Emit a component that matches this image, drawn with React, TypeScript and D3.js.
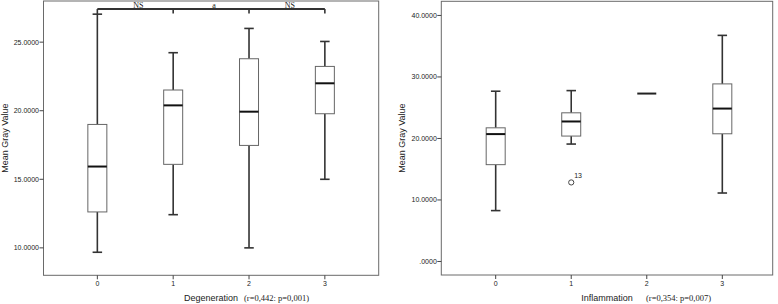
import React from 'react';
import * as d3 from 'd3';

// ---------- Data ----------
const categories = ['0', '1', '2', '3'];

// Degeneration (left panel)
const degWhiskerLow = [9.68, 12.42, 10.0, 15.0];
const degQ1 = [12.62, 16.09, 17.47, 19.78];
const degMedian = [15.93, 20.39, 19.93, 22.0];
const degQ3 = [19.0, 21.51, 23.79, 23.23];
const degWhiskerHigh = [27.04, 24.23, 26.0, 25.05];
const degTicks = [10, 15, 20, 25];
const sigLabels = ['NS', 'a', 'NS'];

// Inflammation (right panel)
const inflWhiskerLow = [8.27, 19.09, 27.3, 11.13];
const inflQ1 = [15.74, 20.39, 27.3, 20.76];
const inflMedian = [20.71, 22.76, 27.3, 24.86];
const inflQ3 = [21.73, 24.17, 27.3, 28.87];
const inflWhiskerHigh = [27.68, 27.78, 27.3, 36.76];
const inflTicks = [0, 10, 20, 30, 40];
const inflOutlierCats = ['1'];
const inflOutlierValues = [12.85];
const inflOutlierLabels = ['13'];

const fmt = (v: number) => d3.format('.4f')(v).replace(/^0\./, '.');

const SANS = '"Liberation Sans", Arial, sans-serif';
const SERIF = '"Liberation Serif", "Times New Roman", serif';

type PanelProps = {
  left: number; right: number; top: number; bottom: number;
  domain: [number, number]; xRange: [number, number]; padding: number;
  lo: number[]; q1: number[]; med: number[]; q3: number[]; hi: number[];
  ticks: number[]; title: string; stat: string; statX: number; yLabelX: number;
  children?: (x: d3.ScalePoint<string>, y: d3.ScaleLinear<number, number>) => React.ReactNode;
};

function Panel(p: PanelProps) {
  const x = d3.scalePoint<string>().domain(categories).range(p.xRange).padding(p.padding);
  const y = d3.scaleLinear().domain(p.domain).range([p.bottom, p.top]);
  const bw = 19;
  const cap = 9.5;
  const midY = (p.top + p.bottom) / 2;
  return (
    <g>
      <rect x={p.left} y={p.top} width={p.right - p.left} height={p.bottom - p.top}
        fill="#fff" stroke="#6a6a6a" strokeWidth={1} />
      {p.ticks.map((t) => (
        <g key={t}>
          <line x1={p.left - 4} x2={p.left} y1={y(t)} y2={y(t)} stroke="#444" />
          <text x={p.left - 4.5} y={y(t) + 2.5} fontSize={7} fontFamily={SANS}
            textAnchor="end" fill="#222">{fmt(t)}</text>
        </g>
      ))}
      {categories.map((c) => (
        <g key={c}>
          <line x1={x(c)} x2={x(c)} y1={p.bottom} y2={p.bottom + 4} stroke="#444" />
          <text x={x(c)} y={p.bottom + 11} fontSize={7} fontFamily={SANS}
            textAnchor="middle" fill="#222">{c}</text>
        </g>
      ))}
      {categories.map((c, i) => {
        const cx = x(c) as number;
        const single = p.q1[i] === p.q3[i];
        if (single) {
          return (
            <line key={c} x1={cx - bw / 2} x2={cx + bw / 2} y1={y(p.med[i])} y2={y(p.med[i])}
              stroke="#222" strokeWidth={2} />
          );
        }
        return (
          <g key={c}>
            <line x1={cx} x2={cx} y1={y(p.hi[i])} y2={y(p.q3[i])} stroke="#333" strokeWidth={1.6} />
            <line x1={cx} x2={cx} y1={y(p.q1[i])} y2={y(p.lo[i])} stroke="#333" strokeWidth={1.6} />
            <line x1={cx - cap / 2} x2={cx + cap / 2} y1={y(p.hi[i])} y2={y(p.hi[i])} stroke="#333" strokeWidth={1.6} />
            <line x1={cx - cap / 2} x2={cx + cap / 2} y1={y(p.lo[i])} y2={y(p.lo[i])} stroke="#333" strokeWidth={1.6} />
            <rect x={cx - bw / 2} y={y(p.q3[i])} width={bw} height={y(p.q1[i]) - y(p.q3[i])}
              fill="#fff" stroke="#666" strokeWidth={1} />
            <line x1={cx - bw / 2} x2={cx + bw / 2} y1={y(p.med[i])} y2={y(p.med[i])}
              stroke="#111" strokeWidth={2} />
          </g>
        );
      })}
      {p.children ? p.children(x, y) : null}
      <text transform={`translate(${p.yLabelX},${midY}) rotate(-90)`} fontSize={9}
        fontFamily={SANS} textAnchor="middle" fill="#222">Mean Gray Value</text>
      <text x={(p.left + p.right) / 2} y={301} fontSize={9} fontFamily={SANS}
        textAnchor="middle" fill="#222">{p.title}</text>
      <text x={p.statX} y={301} fontSize={8.5} fontFamily={SERIF} fill="#222">{p.stat}</text>
    </g>
  );
}

export default function App() {
  return (
    <svg width={778} height={304} style={{ position: 'absolute', left: 0, top: 0, background: '#fff' }}>
      <rect width={778} height={304} fill="#fff" />
      <Panel left={43.5} right={378.7} top={1} bottom={275.3} domain={[8, 28]}
        xRange={[43.5, 378.7]} padding={0.71}
        lo={degWhiskerLow} q1={degQ1} med={degMedian} q3={degQ3} hi={degWhiskerHigh}
        ticks={degTicks} title="Degeneration" stat="(r=0,442: p=0,001)" statX={244} yLabelX={8}>
        {(x, y) => {
          const by = 9;
          const xs = categories.map((c) => x(c) as number);
          return (
            <g>
              <line x1={xs[0]} x2={xs[3]} y1={by} y2={by} stroke="#333" strokeWidth={1.8} />
              <line x1={xs[0]} x2={xs[0]} y1={by} y2={y(degWhiskerHigh[0])} stroke="#333" strokeWidth={1.6} />
              {xs.slice(1).map((xx, i) => (
                <line key={i} x1={xx} x2={xx} y1={by} y2={by + 4.5} stroke="#333" strokeWidth={1.6} />
              ))}
              {sigLabels.map((s, i) => (
                <text key={i} x={(xs[i] + xs[i + 1]) / 2 + 3} y={8} fontSize={8} fontFamily={SERIF}
                  textAnchor="middle" fill="#222">{s}</text>
              ))}
            </g>
          );
        }}
      </Panel>
      <Panel left={441.3} right={772.7} top={1.3} bottom={275} domain={[-2.2, 42.3]}
        xRange={[445.3, 772.7]} padding={0.667}
        lo={inflWhiskerLow} q1={inflQ1} med={inflMedian} q3={inflQ3} hi={inflWhiskerHigh}
        ticks={inflTicks} title="Inflammation" stat="(r=0,354: p=0,007)" statX={646} yLabelX={404.5}>
        {(x, y) => (
          <g>
            {inflOutlierValues.map((v, i) => (
              <g key={i}>
                <circle cx={x(inflOutlierCats[i]) as number} cy={y(v)} r={2.6} fill="#fff"
                  stroke="#444" strokeWidth={1} />
                <text x={(x(inflOutlierCats[i]) as number) + 3} y={y(v) - 4} fontSize={7}
                  fontFamily={SANS} fill="#222">{inflOutlierLabels[i]}</text>
              </g>
            ))}
          </g>
        )}
      </Panel>
    </svg>
  );
}
